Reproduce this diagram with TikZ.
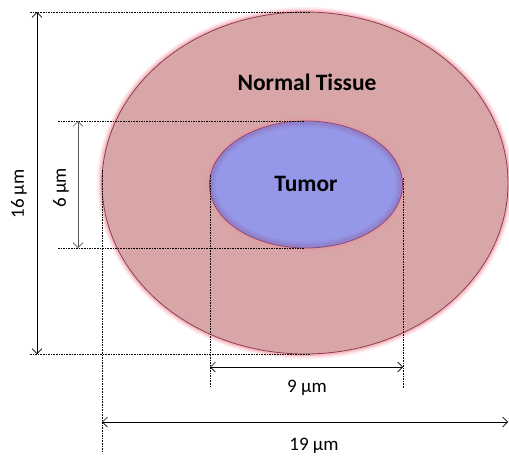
\documentclass[tikz,border=0pt]{standalone}
\usepackage{fontspec}
\setmainfont{Carlito}
\usetikzlibrary{arrows.meta}
\definecolor{tissue}{HTML}{D9A6A8}
\definecolor{tissueedge}{HTML}{8E3C4C}
\definecolor{glow}{HTML}{F08A9A}
\definecolor{tumor}{HTML}{9597E8}
\definecolor{tumoredge}{HTML}{8A4A78}
\tikzset{
  dim/.style={draw=black, line width=0.7pt, {Straight Barb[length=5pt,width=10pt]}-{Straight Barb[length=5pt,width=10pt]}},
  dimgrey/.style={dim, draw=black!65},
  guide/.style={draw=black, line width=0.6pt, dash pattern=on 1.6pt off 1pt},
  big/.style={font=\fontsize{23.5}{25}\selectfont\bfseries},
  lab/.style={font=\fontsize{19}{21}\selectfont},
}
\begin{document}
\begin{tikzpicture}[x=1pt,y=-1pt]
\useasboundingbox (0,0) rectangle (509,460);
% outer ellipse with glow
\foreach \w/\o in {10/0.14,7/0.22,4/0.4}
  \draw[glow, line width=\w pt, opacity=\o] (305,183) ellipse [x radius=203, y radius=171];
\fill[tissue] (305,183) ellipse [x radius=203, y radius=171];
\draw[tissueedge, line width=0.8pt] (305,183) ellipse [x radius=203, y radius=171];
% inner ellipse with glow
\foreach \w/\o in {7/0.15,4/0.25}
  \draw[glow, line width=\w pt, opacity=\o] (306,184.5) ellipse [x radius=96.5, y radius=63.5];
\fill[tumor] (306,184.5) ellipse [x radius=96.5, y radius=63.5];
\foreach \w/\o in {6/0.15,3.5/0.25}
  \draw[tumoredge!70!tumor, line width=\w pt, opacity=\o] (306,184.5) ellipse [x radius=96.5-\w/2, y radius=63.5-\w/2];
\draw[tumoredge, line width=0.8pt] (306,184.5) ellipse [x radius=96.5, y radius=63.5];

\node[big] (normal) at (307,82) {Normal Tissue};
\node[big] (tumorlab) at (306,184) {Tumor};

% guide coordinates
\coordinate (t1) at (30,12);   \coordinate (t2) at (310,12);
\coordinate (b1) at (30,354);  \coordinate (b2) at (310,354);
\coordinate (u1) at (58,121);  \coordinate (u2) at (305,121);
\coordinate (l1) at (58,248);  \coordinate (l2) at (305,248);
\coordinate (vl1) at (102,170); \coordinate (vl2) at (102,452);
\coordinate (vi1) at (210,175); \coordinate (vi2) at (210,386);
\coordinate (vr1) at (403,178); \coordinate (vr2) at (403,388);
\draw[guide] (t1) -- (t2);
\draw[guide] (b1) -- (b2);
\draw[guide] (u1) -- (u2);
\draw[guide] (l1) -- (l2);
\draw[guide] (vl1) -- (vl2);
\draw[guide] (vi1) -- (vi2);
\draw[guide] (vr1) -- (vr2);

% dimension arrows
\coordinate (a16t) at (37,12);  \coordinate (a16b) at (37,354);
\coordinate (a6t) at (78,121);  \coordinate (a6b) at (78,248);
\coordinate (a9l) at (210,367); \coordinate (a9r) at (403,367);
\coordinate (a19l) at (102,422); \coordinate (a19r) at (508,422);
\draw[dim] (a16t) -- (a16b);
\draw[dimgrey] (a6t) -- (a6b);
\draw[dim] (a9l) -- (a9r);
\draw[dim] (a19l) -- (a19r);

\node[lab, rotate=90] (l16) at (19,194) {16 µm};
\node[lab, rotate=90] (l6) at (61,188) {6 µm};
\node[lab] (l9) at (307,388) {9 µm};
\node[lab] (l19) at (314,446) {19 µm};
\end{tikzpicture}
\end{document}
